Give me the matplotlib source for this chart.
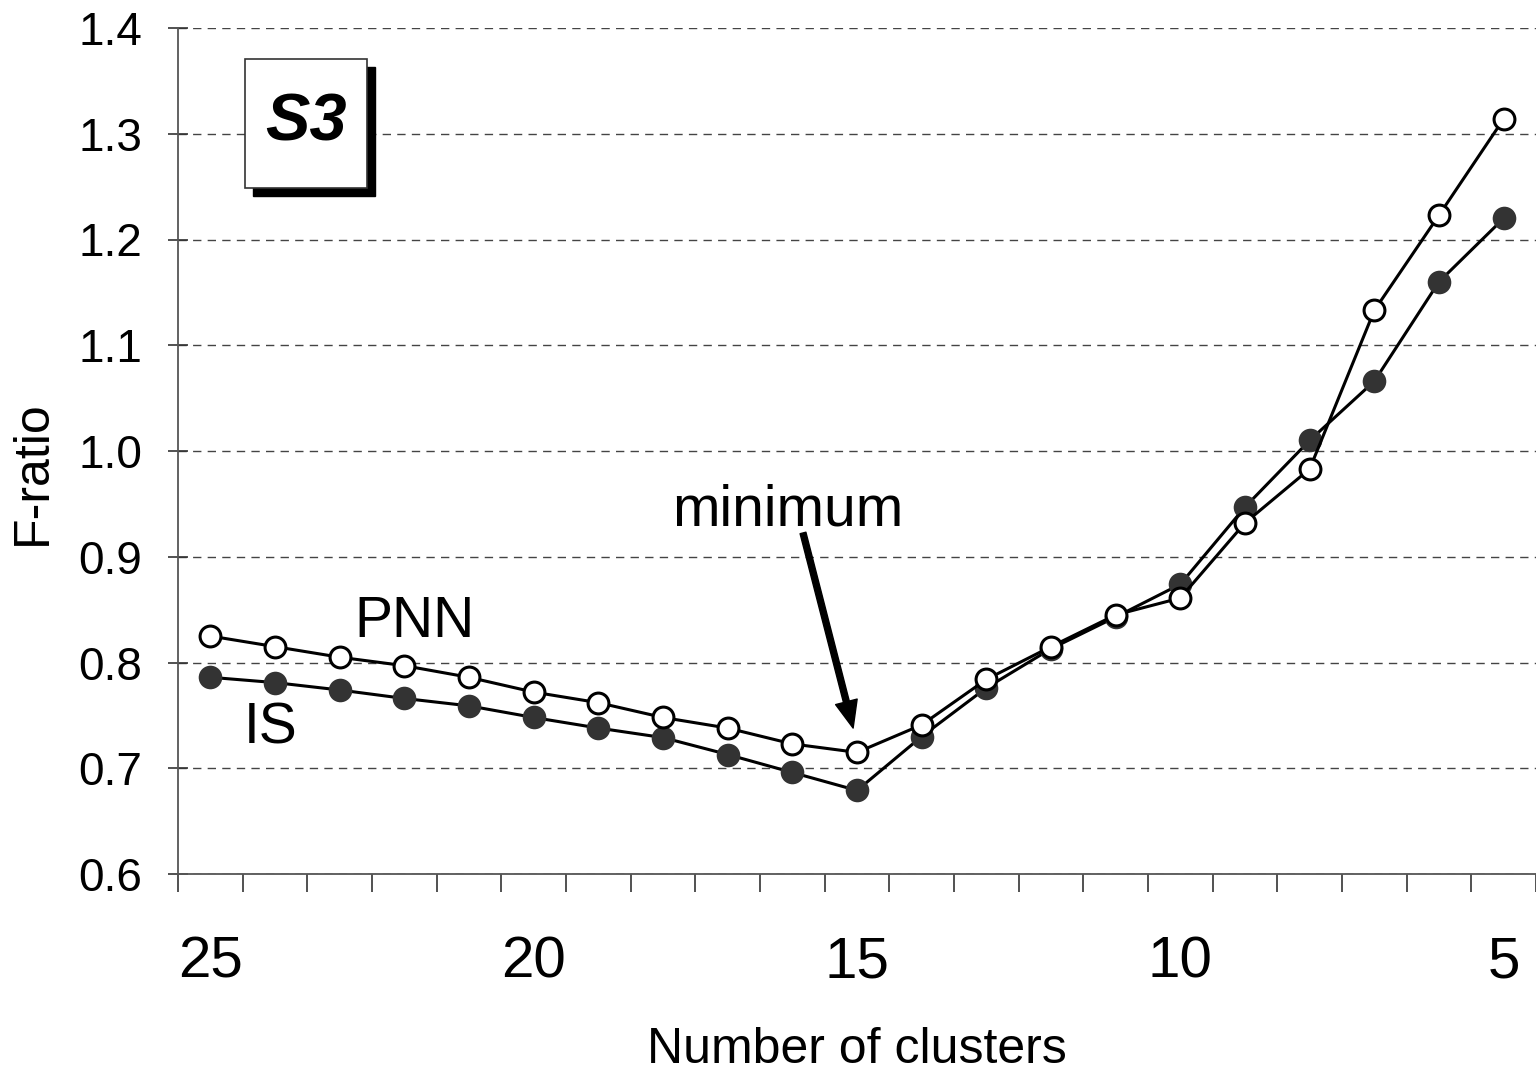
import matplotlib
matplotlib.use('Agg')
import matplotlib.pyplot as plt
from matplotlib.patches import Rectangle

plt.rcParams['font.family'] = ['Liberation Sans', 'DejaVu Sans']

# data
clusters = [25, 24, 23, 22, 21, 20, 19, 18, 17, 16, 15, 14, 13, 12, 11, 10, 9, 8, 7, 6, 5]
pnn = [0.825, 0.815, 0.805, 0.797, 0.786, 0.772, 0.762, 0.748, 0.738, 0.723, 0.715,
       0.741, 0.784, 0.815, 0.845, 0.861, 0.932, 0.983, 1.133, 1.223, 1.314]
is_vals = [0.786, 0.781, 0.774, 0.766, 0.759, 0.748, 0.738, 0.729, 0.713, 0.696, 0.679,
           0.730, 0.776, 0.813, 0.843, 0.874, 0.947, 1.010, 1.066, 1.160, 1.220]
label_clusters = [25, 20, 15, 10, 5]
yticks = [0.6, 0.7, 0.8, 0.9, 1.0, 1.1, 1.2, 1.3, 1.4]

fig = plt.figure(figsize=(15.36, 10.71), dpi=100)
ax = fig.add_axes([178 / 1536, 197 / 1071, 1358 / 1536, 846 / 1071])

xs = list(range(len(clusters)))
ax.plot(xs, is_vals, color='black', lw=2.2, marker='o', ms=17,
        mfc='#333333', mec='#333333', mew=0, zorder=3)
ax.plot(xs, pnn, color='black', lw=2.2, marker='o', ms=15,
        mfc='white', mec='black', mew=2.2, zorder=4)

ax.set_xlim(-0.5, len(clusters) - 0.5)
ax.set_ylim(0.6, 1.4)

# category ticks between points, labels every 5 clusters
ax.set_xticks([i - 0.5 for i in range(len(clusters) + 1)], minor=True)
ax.set_xticks([clusters.index(c) for c in label_clusters])
ax.set_xticklabels([str(c) for c in label_clusters], fontsize=42)
ax.tick_params(axis='x', which='major', length=0, pad=44)
ax.tick_params(axis='x', which='minor', length=13, width=1.2, color='#333333', direction='out')

ax.set_yticks(yticks)
ax.set_yticklabels(['%.1f' % v for v in yticks], fontsize=33)
ax.tick_params(axis='y', length=14, width=1.2, color='#333333', direction='inout', pad=19)

ax.grid(axis='y', color='#444444', lw=1.0, ls=(0, (6, 4.5)))
ax.set_axisbelow(True)
for s in ['top', 'right']:
    ax.spines[s].set_visible(False)
for s in ['left', 'bottom']:
    ax.spines[s].set_color('#555555')
    ax.spines[s].set_linewidth(1.3)

ax.set_xlabel('Number of clusters', fontsize=36)
ax.xaxis.set_label_coords(0.5, -0.181)
ax.set_ylabel('F-ratio', fontsize=36)
ax.yaxis.set_label_coords(-0.09, 0.475)

# series names and annotation
ax.text(3.15, 0.838, 'PNN', fontsize=41, ha='center', va='center')
ax.text(0.94, 0.738, 'IS', fontsize=41, ha='center', va='center')
ax.text(8.93, 0.944, 'minimum', fontsize=41, ha='center', va='center')
ax.annotate('', xy=(9.94, 0.738), xytext=(9.165, 0.9225),
            arrowprops=dict(facecolor='black', edgecolor='black', width=4.3,
                            headwidth=16, headlength=19.5, shrink=0))

# S3 box with drop shadow
bx, by, bw, bh = 0.0493, 0.8109, 0.0899, 0.1525
ax.add_patch(Rectangle((bx + 0.0059, by - 0.0095), bw, bh, transform=ax.transAxes,
                       facecolor='black', edgecolor='black', zorder=5, clip_on=False))
ax.add_patch(Rectangle((bx, by), bw, bh, transform=ax.transAxes,
                       facecolor='white', edgecolor='#333333', lw=1.2, zorder=6, clip_on=False))
ax.text(bx + bw / 2, by + bh / 2, 'S3', transform=ax.transAxes, fontsize=48,
        fontweight='bold', fontstyle='italic', ha='center', va='center', zorder=7)

fig.savefig('out.png', dpi=100)
